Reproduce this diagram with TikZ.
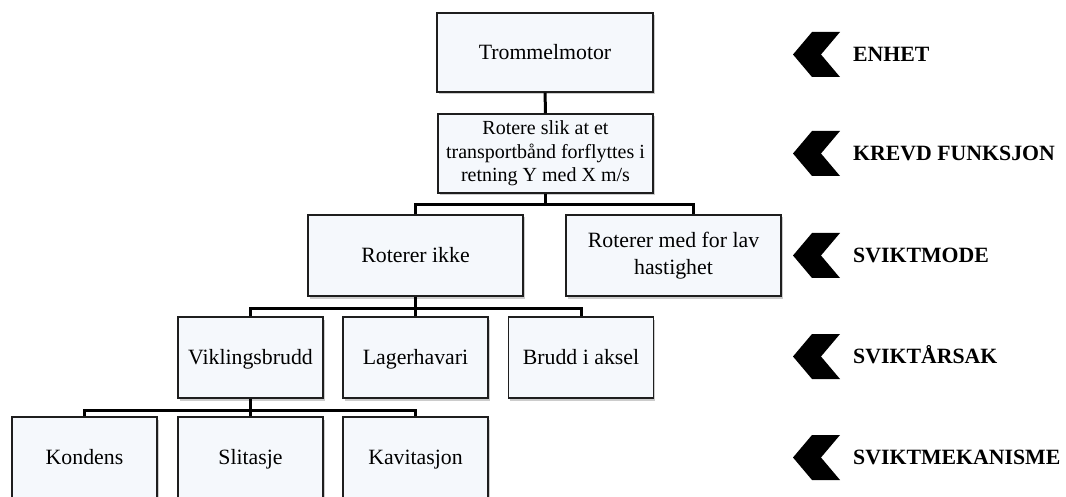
\documentclass[tikz,border=0pt]{standalone}
\usepackage{fontspec}
\setmainfont{Liberation Serif}
\usetikzlibrary{shadows,calc}
\definecolor{boxfill}{RGB}{245,248,252}
\definecolor{boxline}{RGB}{30,30,30}
% strut with the ascent/descent of the serif face, so lines centre as in a text box
\newcommand\vstrut{\rule[-0.216em]{0pt}{1.107em}}
\begin{document}
\begin{tikzpicture}[x=1pt,y=-1pt,
  box/.style={draw=boxline, line width=1.2pt, fill=boxfill, inner sep=0pt, align=center,
    drop shadow={shadow xshift=1.5pt, shadow yshift=-2.5pt, opacity=0.2, fill=black},
    font=\fontsize{21.8}{26.5}\selectfont,
    execute at begin node=\vstrut, execute at end node=\vstrut},
  wide/.style={box, minimum width=215pt, minimum height=81pt},
  narrow/.style={box, minimum width=145pt, minimum height=81pt},
  conn/.style={line width=3pt, line join=miter},
  level/.style={anchor=base west, inner sep=0pt, font=\fontsize{21.8}{26}\selectfont\bfseries}]
\useasboundingbox (0,0) rectangle (1066,497);

% tree boxes
\node[wide, minimum width=216pt, minimum height=79pt] (A) at (545,52.5) {Trommelmotor};
\node[wide, minimum height=79pt, font=\fontsize{20}{23.5}\selectfont] (B) at (545.5,153.5)
  {Rotere slik at et\\transportbånd forflyttes i\\retning Y med X m/s};
\node[wide] (C) at (415.5,255.5) {Roterer ikke};
\node[wide] (D) at (673.5,255.5) {Roterer med for lav\\hastighet};
\node[narrow] (E) at (250.5,357.5) {Viklingsbrudd};
\node[narrow] (F) at (415.5,357.5) {Lagerhavari};
\node[narrow] (G) at (581,357.5) {Brudd i aksel};
\node[narrow] (H) at (84.5,457.5) {Kondens};
\node[narrow] (I) at (250.5,457.5) {Slitasje};
\node[narrow] (J) at (415.5,457.5) {Kavitasjon};

% bus heights
\coordinate (bar3) at (0,205);
\coordinate (bar4) at (0,308);
\coordinate (bar5) at (0,410);
\coordinate (dD) at ($(D.north)+(19.5,0)$);

% connectors
\draw[conn] (A) -- (B);
\draw[conn] (B.south) -- (B.south |- bar3);
\draw[conn] (C.north) |- (dD |- bar3) -- (dD);
\draw[conn] (C.south) -- (F.north);
\draw[conn] (E.north) |- (G.north |- bar4) -- (G.north);
\draw[conn] (E.south) -- (I.north);
\draw[conn] (H.north) |- (J.north |- bar5) -- (J.north);

% level markers
\foreach \y/\t/\n in {54.5/ENHET/l1, 153.5/KREVD FUNKSJON/l2, 255.5/SVIKTMODE/l3,
                      356.5/SVIKTÅRSAK/l4, 457.5/SVIKTMEKANISME/l5} {
  \fill (793,\y) -- ++(19,-22.5) -- ++(28,0) -- ++(-19,22.5) -- ++(19,22.5) -- ++(-28,0) -- cycle;
  \node[level] (\n) at (853,\y+7.2) {\t};
}
\end{tikzpicture}
\end{document}
